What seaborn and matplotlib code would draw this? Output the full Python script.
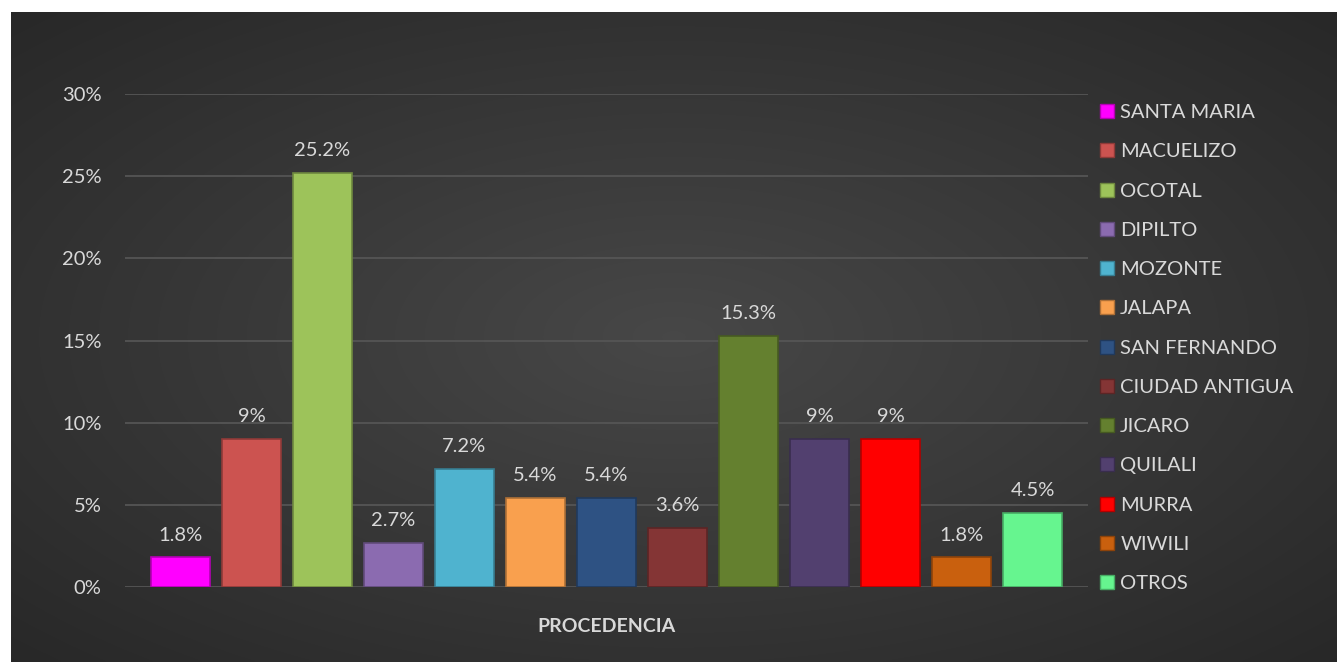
import numpy as np
import pandas as pd
import matplotlib
matplotlib.use('Agg')
import matplotlib.pyplot as plt
import seaborn as sns
from matplotlib.ticker import FuncFormatter, MultipleLocator
from matplotlib.patches import Patch

procedencia = ['SANTA MARIA', 'MACUELIZO', 'OCOTAL', 'DIPILTO', 'MOZONTE', 'JALAPA',
               'SAN FERNANDO', 'CIUDAD ANTIGUA', 'JICARO', 'QUILALI', 'MURRA', 'WIWILI', 'OTROS']
porcentaje = [1.8, 9, 25.2, 2.7, 7.2, 5.4, 5.4, 3.6, 15.3, 9, 9, 1.8, 4.5]
etiquetas = ['1.8%', '9%', '25.2%', '2.7%', '7.2%', '5.4%', '5.4%', '3.6%', '15.3%', '9%', '9%', '1.8%', '4.5%']
colores = ['#FF00FF', '#CC5350', '#9DC35A', '#8B6BB0', '#4FB3CF', '#F9A04E', '#2E5283',
           '#843535', '#64802F', '#52406F', '#FF0000', '#C9600E', '#66F58F']

df = pd.DataFrame({'procedencia': procedencia, 'pct': porcentaje})

sns.set_theme(style='dark')
plt.rcParams['font.family'] = ['Lato', 'DejaVu Sans']
txt = '#D9D9D9'
fs = 14.5

fig = plt.figure(figsize=(13.37, 6.62), dpi=100, facecolor='white')

# dark radial background
bg = fig.add_axes([11/1337, 0, 1 - 11/1337, 1 - 12/662])
yy, xx = np.mgrid[0:1:300j, 0:1:600j]
r = np.sqrt(((xx - 0.5) / 0.8) ** 2 + ((yy - 0.5) / 0.8) ** 2)
g = np.clip(0.28 - 0.14 * r, 0.15, 0.3)
bg.imshow(np.dstack([g, g, g]), aspect='auto', extent=[0, 1, 0, 1], interpolation='bilinear')
bg.set_axis_off()

ax = fig.add_axes([125/1337, 1 - 587/662, (1088 - 125)/1337, (587 - 94)/662])
ax.set_facecolor('none')
sns.barplot(data=df, x='procedencia', y='pct', hue='procedencia', palette=colores,
            width=0.82, saturation=1, legend=False, ax=ax, zorder=3)

for p, c in zip(ax.patches, colores):
    p.set_edgecolor(tuple(v * 0.7 for v in matplotlib.colors.to_rgb(c)))
    p.set_linewidth(1.2)

for i, (v, lab) in enumerate(zip(porcentaje, etiquetas)):
    ax.annotate(lab, (i, v), xytext=(0, 10), textcoords='offset points',
                ha='center', va='bottom', color=txt, fontsize=fs)

ax.set_ylim(0, 30)
ax.set_xlim(-0.78, 12.78)
ax.yaxis.set_major_locator(MultipleLocator(5))
ax.yaxis.set_major_formatter(FuncFormatter(lambda v, pos: f'{int(v)}%'))
ax.tick_params(axis='y', length=0, pad=17, colors=txt, labelsize=fs)
ax.set_xticks([])
ax.grid(axis='y', color='#555555', linewidth=1.3, zorder=0)
ax.set_axisbelow(True)
for s in ax.spines.values():
    s.set_visible(False)
ax.set_ylabel('')
ax.set_xlabel('PROCEDENCIA', color=txt, fontsize=14, fontweight='bold', labelpad=22)

handles = [Patch(facecolor=c, edgecolor=tuple(v * 0.7 for v in matplotlib.colors.to_rgb(c)))
           for c in colores]
leg = fig.legend(handles, procedencia, loc='upper left', bbox_to_anchor=(1092/1337, 1 - 96/662),
                 frameon=False, fontsize=fs, labelcolor=txt, handlelength=0.7, handleheight=0.7,
                 handletextpad=0.3, labelspacing=1.10, borderaxespad=0)

fig.savefig('out.png', dpi=100, facecolor='white')
